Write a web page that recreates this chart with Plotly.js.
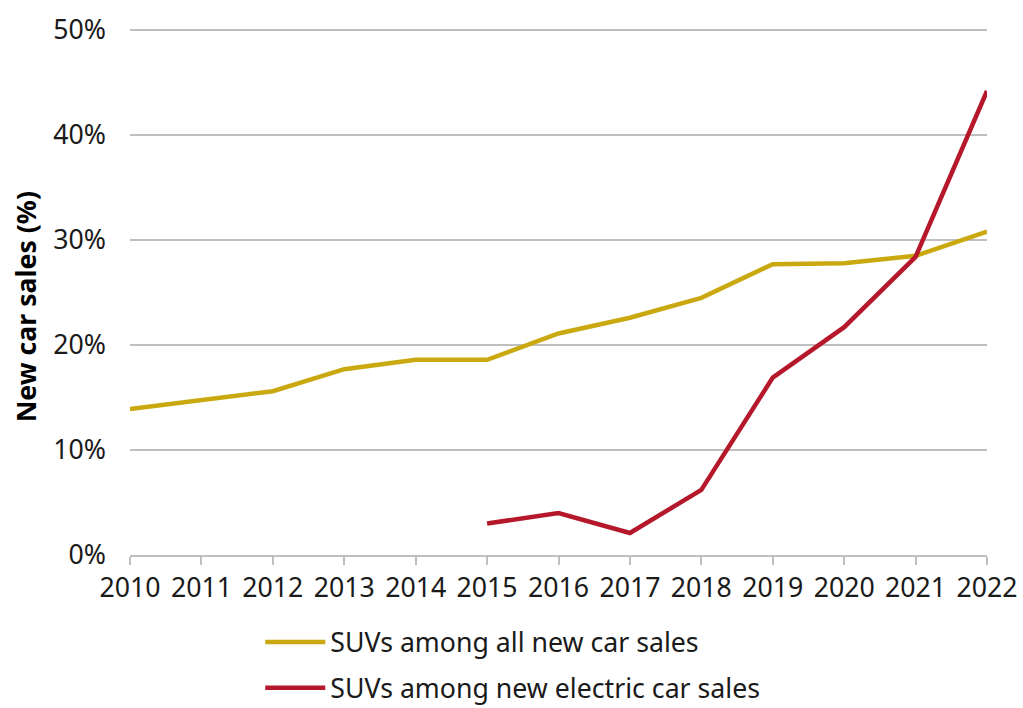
<!DOCTYPE html>
<html><head><meta charset="utf-8">
<script src="https://cdn.plot.ly/plotly-3.0.1.min.js"></script>
<style>body{margin:0;background:#fff}#c{width:1023px;height:708px}</style>
</head><body><div id="c"></div>
<script>
const years = [2010,2011,2012,2013,2014,2015,2016,2017,2018,2019,2020,2021,2022];
const suvAll = [13.9,14.8,15.6,17.7,18.6,18.6,21.1,22.6,24.5,27.7,27.8,28.5,30.8];
const evYears = [2015,2016,2017,2018,2019,2020,2021,2022];
const suvEV = [3.0,4.0,2.1,6.2,16.9,21.7,28.4,44.2];
const seriesNames = ["SUVs among all new car sales","SUVs among new electric car sales"];
const yTickVals = [0,10,20,30,40,50];
const yTickText = ["0%","10%","20%","30%","40%","50%"];
const yTitle = "New car sales (%)";

const font = "'Noto Sans', 'Open Sans', sans-serif";
const traces = [
  {x: years, y: suvAll, name: seriesNames[0], legendgroup: "a", mode: "lines", line: {color: "#C9A90F", width: 4.5}},
  {x: evYears, y: suvEV, name: seriesNames[1], legendgroup: "b", mode: "lines", line: {color: "#B5182B", width: 4.5}}
];
const layout = {
  width: 1023, height: 708,
  margin: {l: 130, r: 36, t: 28, b: 153},
  paper_bgcolor: "#fff", plot_bgcolor: "#fff",
  font: {family: font, size: 26.7, color: "#1a1a1a"},
  showlegend: true,
  legend: {orientation: "v", x: 0.152, xanchor: "left", yref: "container", y: 0.127, yanchor: "top", traceorder: "grouped",
           font: {family: font, size: 26.7, color: "#1a1a1a"}, tracegroupgap: 8, itemwidth: 60},
  xaxis: {range: [2010, 2022], tickvals: years, ticktext: years.map(String),
          showgrid: false, zeroline: false, showline: true, linecolor: "#BFBFBF", linewidth: 2,
          ticks: "outside", ticklen: 8, tickcolor: "#BFBFBF", tickwidth: 2,
          tickfont: {size: 26.7}, fixedrange: true},
  yaxis: {range: [0, 50.2], tickvals: yTickVals, ticktext: yTickText,
          showgrid: true, gridcolor: "#BFBFBF", gridwidth: 1.5, zeroline: false, showline: false,
          ticks: "", ticklabelstandoff: 23, tickfont: {size: 26.7}, fixedrange: true},
  annotations: [{text: "<b>" + yTitle + "</b>", xref: "paper", yref: "paper", x: -0.1225, y: 0.47,
                 xanchor: "center", yanchor: "middle", textangle: -90, showarrow: false,
                 font: {family: font, size: 26.7, color: "#000"}}]
};
Plotly.newPlot("c", traces, layout, {displayModeBar: false, staticPlot: true});
</script></body></html>
